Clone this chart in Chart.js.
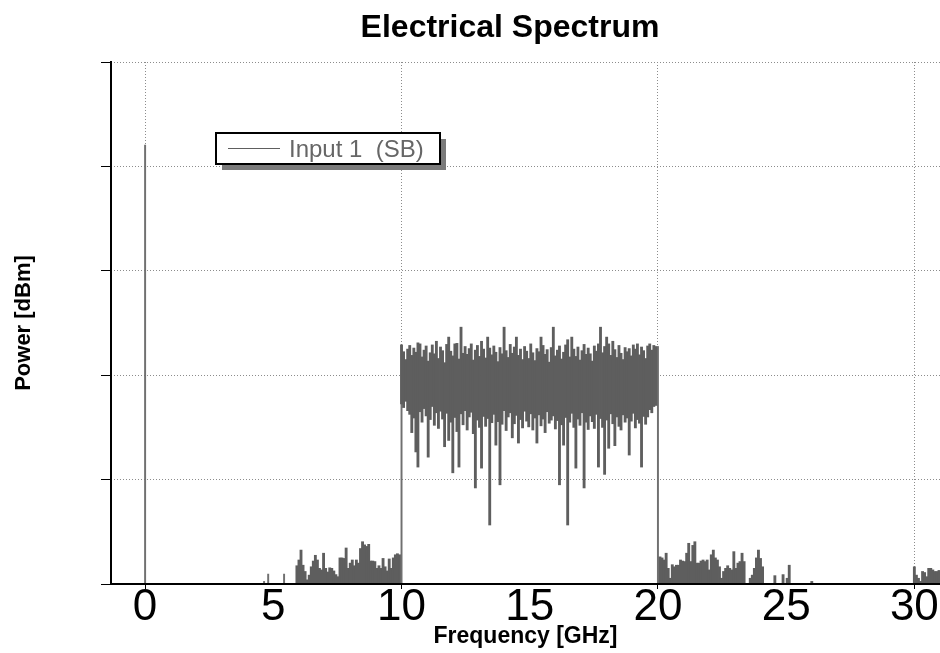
<!DOCTYPE html>
<html><head><meta charset="utf-8">
<script src="https://cdn.jsdelivr.net/npm/chart.js@4.4.0/dist/chart.umd.min.js"></script>
<style>html,body{margin:0;padding:0;background:#fff}#wrap{width:940px;height:653px;position:relative}canvas{display:block}</style>
</head><body><div id="wrap"><canvas id="c" width="940" height="653"></canvas></div>
<script>
// ---- tick labels / axis values ----
const xTicks = [0, 5, 10, 15, 20, 25, 30];
const xGridTicks = [0, 10, 20, 30];
const yTicks = [-100, -80, -60, -40, -20, 0];
const floorLevel = -100;
const step = 0.08; // GHz between samples

// ---- single narrow lines (carrier at 0 GHz, band edges) ----
const lineFreqs = [0, 10, 20];
const linePeaks = [-15.9, -54.2, -54.5];

// ---- isolated small spikes below 6 GHz ----
const sparseFreqs = [4.64, 4.80, 5.42];
const sparseVals = [-99.5, -98.1, -98.1];

// ---- signal band 10–20 GHz: upper and lower envelope per sample ----
const bandStart = 10.0;
const bandHigh = [
-54.2,-55.5,-57.0,-55.0,-54.3,-56.2,-54.8,-55.6,-53.8,-54.0,
-56.5,-55.2,-54.4,-57.3,-55.7,-54.2,-55.9,-53.5,-56.8,-54.6,
-55.3,-57.6,-54.1,-52.7,-55.4,-56.3,-54.0,-53.9,-56.9,-50.8,
-55.8,-54.5,-56.0,-54.9,-54.0,-57.1,-55.2,-54.3,-56.4,-53.5,
-55.0,-56.7,-52.7,-54.8,-56.1,-54.4,-55.6,-57.4,-54.7,-55.9,
-50.8,-55.3,-56.6,-54.1,-55.8,-54.6,-52.7,-56.2,-55.0,-57.0,
-54.5,-55.4,-56.8,-54.0,-55.7,-57.2,-54.9,-55.5,-52.7,-54.3,
-56.0,-55.1,-57.5,-54.7,-50.8,-56.3,-55.2,-54.4,-56.9,-55.6,
-54.2,-53.2,-56.5,-52.7,-55.0,-56.4,-54.6,-57.1,-55.3,-54.1,
-56.0,-54.8,-55.9,-57.3,-54.4,-55.4,-54.0,-50.8,-55.7,-54.5,
-52.7,-54.0,-56.2,-53.5,-55.1,-56.6,-54.3,-55.8,-57.0,-54.7,
-55.5,-54.9,-56.3,-54.2,-55.0,-54.0,-56.1,-54.6,-55.3,-56.8,
-54.4,-54.0,-55.2,-54.3,-54.5
];
const bandLow = [
-65.5,-66.2,-65.0,-66.8,-67.5,-71.0,-68.2,-74.7,-77.6,-67.0,
-69.0,-66.4,-67.8,-75.7,-68.5,-66.0,-69.6,-67.2,-70.2,-66.9,
-68.4,-73.7,-67.3,-72.5,-69.0,-78.7,-68.1,-70.8,-77.6,-67.4,
-69.5,-66.8,-70.5,-68.0,-67.1,-71.2,-81.6,-68.6,-70.0,-77.8,
-67.9,-69.8,-68.3,-88.7,-69.1,-67.5,-73.4,-68.9,-81.0,-69.4,
-66.8,-70.6,-68.0,-67.2,-72.0,-69.3,-67.7,-73.0,-68.5,-70.1,
-66.9,-68.8,-69.9,-67.4,-70.5,-68.2,-73.0,-67.6,-69.7,-68.4,
-71.0,-67.0,-69.2,-68.6,-67.8,-70.3,-68.7,-81.0,-69.5,-73.4,
-68.1,-88.7,-69.0,-67.3,-70.0,-77.8,-68.4,-69.6,-67.2,-81.6,
-69.0,-70.4,-67.8,-68.9,-70.2,-67.5,-77.6,-68.3,-70.0,-79.0,
-68.6,-74.0,-67.4,-69.3,-73.5,-68.0,-69.8,-70.5,-67.6,-69.0,
-68.2,-75.3,-68.8,-67.3,-70.1,-68.5,-69.2,-77.6,-67.9,-69.4,
-68.0,-66.6,-67.2,-66.0,-65.8
];

// ---- low-level noise below the band (5.9–10 GHz) ----
const lowAStart = 5.92;
const lowA = [
-96.5,-95.4,-93.5,-96.4,-97.6,-99.2,-98.3,-96.7,-95.6,-94.5,
-95.4,-97.0,-97.3,-94.1,-97.0,-97.7,-96.9,-97.0,-97.5,-98.2,
-98.6,-95.0,-95.0,-95.1,-93.1,-97.0,-96.0,-95.4,-96.5,-95.4,
-96.0,-93.2,-91.9,-92.5,-92.8,-92.4,-95.6,-95.6,-95.7,-97.0,
-96.5,-97.0,-95.1,-96.7,-97.5,-95.2,-97.0,-95.0,-94.4,-94.2,
-94.4
];

// ---- low-level noise above the band (20–26 GHz) ----
const lowBStart = 20.08;
const lowB = [
-94.8,-95.0,-95.4,-94.1,-97.0,-98.9,-96.3,-96.7,-96.4,-96.4,
-95.4,-95.6,-95.7,-94.1,-92.2,-95.7,-92.6,-91.9,-96.0,-96.0,
-95.6,-95.4,-95.7,-95.4,-97.3,-94.4,-93.5,-95.0,-95.4,-96.7,
-98.9,-97.6,-97.0,-96.5,-97.0,-97.3,-93.8,-97.0,-96.0,-95.7,
-94.1,-95.7,-100,-100,-98.9,-98.3,-97.0,-95.0,-93.5,-95.1,
-96.7,-100,-100,-100,-100,-100,-98.4,-100,-100,-100,
-98.2,-100,-98.9,-96.4,-100,-100,-100,-100,-100,-100,
-100,-100,-100,-100,-99.5
];

// ---- low-level noise at the right edge (30–31 GHz) ----
const lowCStart = 30.0;
const lowC = [-96.7,-98.3,-98.9,-99.5,-97.6,-97.8,-98.6,-97.0,-97.0,-97.3,-97.6,-97.6,-97.4];

const chartTitle = 'Electrical Spectrum';
const seriesLabel = 'Input 1  (SB)';
const traceColor = '#5e5e5e';
const thinLineColor = '#707070';

function sampled(start, vals) {
  return vals.map((v, i) => ({ x: +(start + i * step).toFixed(3), y: [floorLevel, v] }));
}

const bandData = bandHigh.map((h, i) => ({ x: +(bandStart + i * step).toFixed(3), y: [bandLow[i], h] }));
const lowData = [].concat(
  sampled(lowAStart, lowA),
  sampled(lowBStart, lowB),
  sampled(lowCStart, lowC)
);
const lineData = lineFreqs.map((f, i) => ({ x: f, y: [floorLevel, linePeaks[i]] }))
  .concat(sparseFreqs.map((f, i) => ({ x: f, y: [floorLevel, sparseVals[i]] })));

const FONT = "'Liberation Sans', Arial, sans-serif";

const titleText = {
  id: 'titleText',
  afterDraw(chart) {
    const ctx = chart.ctx;
    ctx.save();
    ctx.fillStyle = '#000';
    ctx.font = 'bold 32px ' + FONT;
    ctx.textAlign = 'center';
    ctx.textBaseline = 'alphabetic';
    ctx.fillText(chartTitle, 510, 37);
    ctx.restore();
  }
};

const legendBox = {
  id: 'legendBox',
  afterDraw(chart) {
    const ctx = chart.ctx;
    const x = 216, y = 133, w = 224, h = 31;
    ctx.save();
    ctx.fillStyle = '#7a7a7a';
    ctx.fillRect(x + 6, y + 6, w, h);
    ctx.fillStyle = '#ffffff';
    ctx.fillRect(x, y, w, h);
    ctx.strokeStyle = '#000';
    ctx.lineWidth = 2;
    ctx.strokeRect(x, y, w, h);
    ctx.strokeStyle = traceColor;
    ctx.lineWidth = 1.2;
    ctx.beginPath();
    ctx.moveTo(228, y + h / 2);
    ctx.lineTo(280, y + h / 2);
    ctx.stroke();
    ctx.fillStyle = '#666';
    ctx.font = '24px ' + FONT;
    ctx.textBaseline = 'middle';
    ctx.textAlign = 'left';
    ctx.fillText(chart.data.datasets[0].label, 289, y + h / 2 + 2);
    ctx.restore();
  }
};

const axesLines = {
  id: 'axesLines',
  afterDatasetsDraw(chart) {
    const { ctx, chartArea: a } = chart;
    ctx.save();
    ctx.strokeStyle = '#000';
    ctx.lineWidth = 2;
    ctx.beginPath();
    ctx.moveTo(a.left, a.top - 1);
    ctx.lineTo(a.left, a.bottom);
    ctx.lineTo(a.right + 2, a.bottom);
    ctx.stroke();
    ctx.restore();
  }
};

new Chart(document.getElementById('c'), {
  type: 'bar',
  data: {
    datasets: [
      { label: seriesLabel, data: bandData, backgroundColor: traceColor, barThickness: 2.2, grouped: false },
      { label: 'low', data: lowData, backgroundColor: traceColor, barThickness: 2.2, grouped: false },
      { label: 'lines', data: lineData, backgroundColor: thinLineColor, barThickness: 1.3, grouped: false }
    ]
  },
  options: {
    responsive: false,
    maintainAspectRatio: false,
    animation: false,
    devicePixelRatio: 1,
    layout: { padding: { left: 0, right: 0, top: 62, bottom: 0 } },
    plugins: {
      legend: { display: false },
      tooltip: { enabled: false },
      title: { display: false }
    },
    scales: {
      x: {
        type: 'linear',
        min: -1.33,
        max: 31.0,
        offset: false,
        afterBuildTicks: s => { s.ticks = xTicks.map(v => ({ value: v })); },
        afterFit: s => { s.height = 69; },
        grid: {
          offset: false,
          color: ctx => (ctx.tick && xGridTicks.includes(ctx.tick.value)) ? '#8c8c8c' : 'rgba(0,0,0,0)',
          lineWidth: 1,
          drawTicks: true,
          tickLength: 5,
          tickColor: ctx => (ctx.tick && xGridTicks.includes(ctx.tick.value)) ? '#000' : 'rgba(0,0,0,0)',
          tickWidth: 1
        },
        border: { display: false, dash: [1, 2] },
        ticks: {
          color: '#000',
          font: { family: FONT, size: 44, lineHeight: 0.8 },
          padding: 1,
          maxRotation: 0,
          autoSkip: false
        },
        title: {
          display: true,
          text: 'Frequency [GHz]',
          color: '#000',
          font: { family: FONT, size: 23, weight: 'bold', lineHeight: 1.0 },
          padding: { top: 0, bottom: 5 }
        }
      },
      y: {
        type: 'linear',
        min: -100,
        max: 0,
        afterBuildTicks: s => { s.ticks = yTicks.map(v => ({ value: v })); },
        afterFit: s => { s.width = 111; },
        grid: {
          color: '#8c8c8c',
          lineWidth: 1,
          drawTicks: true,
          tickLength: 10,
          tickColor: '#000',
          tickWidth: 1
        },
        border: { display: false, dash: [1, 2] },
        ticks: { display: false },
        title: {
          display: true,
          text: 'Power [dBm]',
          color: '#000',
          font: { family: FONT, size: 22, weight: 'bold', lineHeight: 1.0 },
          padding: { top: 13, bottom: 0 }
        }
      }
    }
  },
  plugins: [axesLines, legendBox, titleText]
});
</script>
</body></html>
